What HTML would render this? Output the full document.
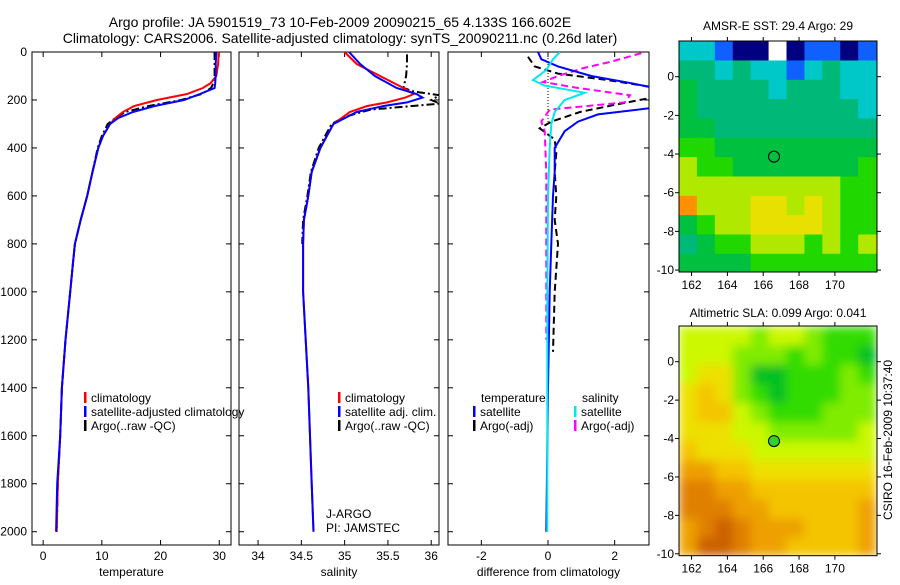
<!DOCTYPE html>
<html><head><meta charset="utf-8"><style>
body{margin:0;background:#fff;width:900px;height:580px;overflow:hidden}
svg{font-family:"Liberation Sans",sans-serif;font-size:12px}
</style></head><body>
<svg id="s" width="900" height="580">
<defs>
<filter id="bl" x="0" y="0" width="1" height="1"><feGaussianBlur stdDeviation="5" edgeMode="duplicate"/></filter>
<clipPath id="slaclip"><rect x="679" y="326" width="198" height="229.7"/></clipPath>
</defs>
<text x="340" y="27" text-anchor="middle" font-size="14">Argo profile: JA 5901519_73 10-Feb-2009 20090215_65 4.133S 166.602E</text>
<text x="340" y="43" text-anchor="middle" font-size="14">Climatology: CARS2006. Satellite-adjusted climatology: synTS_20090211.nc (0.26d later)</text>
<text x="778" y="30" text-anchor="middle">AMSR-E SST: 29.4 Argo: 29</text>
<text x="778" y="317" text-anchor="middle">Altimetric SLA: 0.099 Argo: 0.041</text>
<text transform="translate(892,440) rotate(-90)" text-anchor="middle">CSIRO 16-Feb-2009 10:37:40</text>
</svg>
<script>
// ---- profile data ----
const depthT=[0,50,100,130,150,175,200,225,250,275,300,350,400,500,600,700,800,900,1000,1200,1400,1600,1800,2000];
const tClim=[29.9,29.8,29.5,28.5,27.2,24.5,19.4,15.5,13.6,12.3,11.4,10.2,9.4,8.4,7.5,6.4,5.4,5.0,4.6,3.8,3.2,2.9,2.5,2.3];
const tSatClim=[29.5,29.4,29.4,29.3,29.2,26.7,24,19,15.3,12.8,11.4,10.2,9.4,8.4,7.5,6.4,5.4,5.0,4.6,3.8,3.2,2.9,2.4,2.2];
const tArgo=[29.2,29.2,29.2,29.0,28.6,27,23.5,18,14,12.3,11,10,9.3,8.4,7.5,6.4,5.4,5.0,4.6,3.8,3.2,2.9,2.5,2.3];
const depthS=[0,50,100,150,175,190,210,225,250,300,400,500,600,700,800,1000,1400,1600,1800,2000];
const sClim=[35.0,35.14,35.41,35.68,35.8,35.7,35.49,35.26,35.06,34.87,34.72,34.62,34.58,34.53,34.52,34.52,34.58,34.6,34.62,34.64];
const sSatClim=[35.05,35.18,35.35,35.6,35.83,35.9,35.72,35.45,35.14,34.87,34.72,34.62,34.58,34.53,34.52,34.52,34.58,34.6,34.62,34.64];
const depthSA=[10,50,100,150,165,180,200,215,240,270,300,400,500,600,700,800];
const sArgo=[35.72,35.72,35.71,35.68,35.8,36.1,36.0,36.1,35.3,35.0,34.85,34.7,34.61,34.57,34.52,34.51];
const depthD=[0,30,60,100,130,150,170,200,230,260,290,330,400,500,600,800,1000,1400,2000];
const dTSat=[-0.3,-0.2,0.3,1.3,2.5,3.2,4,4.5,3.3,1.5,0.9,0.5,0.2,0.2,0.15,0.1,0.05,0,-0.05];
const depthDTA=[20,60,90,117,148,180,220,250,290,318,365,420,500,600,700,800,1000,1250];
const dTArgo=[-0.6,-0.4,0.3,1.8,3.2,3.5,2,0.96,0.1,-0.25,0.2,0.25,0.2,0.25,0.2,0.3,0.2,0.15];
const depthDSS=[0,30,75,117,140,155,170,200,250,300,400,600,1000,2000];
const dSSat=[0.36,0.15,-0.05,-0.45,-0.1,0.5,1.1,0.5,0.2,0.1,0.05,0.0,-0.02,-0.02];
const depthDSA=[5,40,67,100,125,150,180,210,240,290,330,500,800,1200];
const dSArgo=[2.8,1.9,1.06,0.3,-0.15,0.9,2.46,2.3,0.05,-0.2,-0.1,-0.05,-0.05,-0.05];
const depthTicks=[0,200,400,600,800,1000,1200,1400,1600,1800,2000];
const tTicks=[0,10,20,30], sTicks=[34,34.5,35,35.5,36], dTicks=[-2,0,2];
// ---- map data (colour class per 1-degree cell) ----
const sstLat=[1.84,0.84,-0.16,-1.16,-2.16,-3.16,-4.16,-5.16,-6.16,-7.16,-8.16,-9.16,-10.1];
const sstRows=[
[3,3,2,1,1,0,1,2,2,1,2],[4,4,3,4,3,3,2,3,4,3,3],[5,4,4,4,4,3,4,4,4,3,3],[5,4,4,4,4,4,4,4,4,4,3],
[5,5,4,4,4,4,4,4,4,4,4],[6,6,5,5,5,5,5,5,5,5,5],[7,6,6,5,5,5,5,5,5,5,6],[7,7,7,7,7,7,7,7,7,6,6],
[9,7,7,7,8,8,7,8,7,6,6],[5,6,7,7,8,8,8,8,7,6,6],[4,5,6,6,7,7,7,6,7,6,7],[5,5,5,5,6,6,6,6,6,6,6]];
const slaRows=[
[3,3,3,3,2,3,3,2,1,1,1],[3,3,3,2,2,2,1,2,1,1,0],[3,4,4,2,0,0,1,1,1,2,1],[4,5,4,2,1,0,1,1,1,2,2],
[4,5,5,3,2,1,1,1,2,2,2],[4,4,4,3,3,2,2,2,2,2,3],[5,4,4,4,3,3,3,3,3,3,3],[6,6,5,5,4,4,4,4,4,4,4],
[7,7,6,6,5,5,5,5,5,5,5],[7,7,7,6,6,5,5,5,5,5,6],[6,7,8,7,6,6,6,5,5,5,6],[6,8,8,7,6,6,5,5,5,5,6]];
const lonTicks=[162,164,166,168,170], latTicks=[0,-2,-4,-6,-8,-10];
const argoLon=166.602, argoLat=-4.133;
const sstPal=['#ffffff','#000080','#1060ff','#00c8c8','#00b878','#00c040','#20d800','#b0e800','#e8e000','#ff9000'];
const slaPal=['#00c020','#30dc00','#80ec00','#ccf800','#eee000','#f4c400','#eea000','#e08000','#cc6000'];

const S=document.getElementById('s'),NS='http://www.w3.org/2000/svg';
function mk(t,a,p){const e=document.createElementNS(NS,t);for(const k in a)e.setAttribute(k,a[k]);(p||S).appendChild(e);return e;}
const Y0=52,Y1=545,dY=d=>Y0+d*(531.7-52)/2000;
const panels=[{x0:32,x1:231,lo:-1.9,hi:32},{x0:239,x1:439,lo:33.78,hi:36.09},{x0:448,x1:649,lo:-3,hi:3.03}];
panels.forEach(p=>p.f=v=>p.x0+(v-p.lo)/(p.hi-p.lo)*(p.x1-p.x0));
function clipFor(i,p){const c=mk('clipPath',{id:'c'+i});mk('rect',{x:p.x0,y:Y0,width:p.x1-p.x0,height:Y1-Y0},c);}
panels.forEach((p,i)=>clipFor(i,p));
function line(pi,ds,vs,col,dash,name,w){
  const p=panels[pi];const pts=ds.map((d,i)=>p.f(vs[i]).toFixed(1)+','+dY(d).toFixed(1)).join(' ');
  const e=mk('polyline',{points:pts,fill:'none',stroke:col,'stroke-width':w||2,'clip-path':'url(#c'+pi+')'});
  if(dash)e.setAttribute('stroke-dasharray',dash);
  
  
}
const names=['temperature','salinity','difference from climatology'];
const ticks=[tTicks,sTicks,dTicks];
panels.forEach((p,i)=>{
  const r=mk('rect',{x:p.x0,y:Y0,width:p.x1-p.x0,height:Y1-Y0,fill:'none',stroke:'#000','stroke-width':1});
  
  
  ticks[i].forEach(v=>{const x=p.f(v);
    mk('line',{x1:x,x2:x,y1:Y1,y2:Y1-5,stroke:'#000'});mk('line',{x1:x,x2:x,y1:Y0,y2:Y0+5,stroke:'#000'});
    const t=mk('text',{x:x,y:560,'text-anchor':'middle'});t.textContent=v;
    
    });
  depthTicks.forEach(d=>{const y=dY(d);mk('line',{x1:p.x0,x2:p.x0+5,y1:y,y2:y,stroke:'#000'});mk('line',{x1:p.x1,x2:p.x1-5,y1:y,y2:y,stroke:'#000'});});
  const t=mk('text',{x:(p.x0+p.x1)/2,y:576,'text-anchor':'middle'});t.textContent=names[i];
  
  
});
depthTicks.forEach(d=>{const t=mk('text',{x:27,y:dY(d)+4,'text-anchor':'end'});t.textContent=d;
  
  });
mk('line',{x1:panels[2].f(0),x2:panels[2].f(0),y1:Y0,y2:dY(300),stroke:'#000','stroke-dasharray':'1,2'});
line(0,depthT,tArgo,'#000','8,3,2,3','temp-argo');
line(0,depthT,tClim,'#ff0000',null,'temp-climatology');
line(0,depthT,tSatClim,'#0000ff',null,'temp-satellite-climatology');
line(1,depthSA,sArgo,'#000','8,3,2,3','sal-argo');
line(1,depthS,sClim,'#ff0000',null,'sal-climatology');
line(1,depthS,sSatClim,'#0000ff',null,'sal-satellite-climatology');
line(2,depthDTA,dTArgo,'#000','7,4','diff-temp-argo');
line(2,depthDSA,dSArgo,'#ff00ff','7,4','diff-sal-argo');
line(2,depthD,dTSat,'#0000ff',null,'diff-temp-satellite');
line(2,depthDSS,dSSat,'#00e8f0',null,'diff-sal-satellite');
function leg(x,y,col,txt,name){mk('rect',{x:x,y:y-10,width:2.5,height:11,fill:col});
  const t=mk('text',{x:x+7,y:y});t.textContent=txt;}
leg(84,402,'#ff0000','climatology','legend-climatology');
leg(84,416,'#0000ff','satellite-adjusted climatology','legend-satellite-climatology');
leg(84,430,'#000','Argo(..raw -QC)','legend-argo');
leg(338,402,'#ff0000','climatology','legend-sal-climatology');
leg(338,416,'#0000ff','satellite adj. clim.','legend-sal-satellite');
leg(338,430,'#000','Argo(..raw -QC)','legend-sal-argo');
let tt=mk('text',{x:481,y:402});tt.textContent='temperature';
tt=mk('text',{x:582,y:402});tt.textContent='salinity';
leg(473,416,'#0000ff','satellite','legend-diff-temp-sat');
leg(473,430,'#000','Argo(-adj)','legend-diff-temp-argo');
leg(574,416,'#00e8f0','satellite','legend-diff-sal-sat');
leg(574,430,'#ff00ff','Argo(-adj)','legend-diff-sal-argo');
tt=mk('text',{x:326,y:518});tt.textContent='J-ARGO';
tt=mk('text',{x:326,y:532});tt.textContent='PI: JAMSTEC';
function map(rows,pal,top,bottom,zeroY,name,filled){
  const x0=679,x1=877,lonLo=161.3,lonHi=172.35;
  const fx=l=>x0+(l-lonLo)/(lonHi-lonLo)*(x1-x0);
  const pxLat=(bottom-zeroY)/10.1;const fy=la=>zeroY-la*pxLat;
  const outer=mk('g',filled?{'clip-path':'url(#slaclip)'}:{});
  const g=mk('g',filled?{filter:'url(#bl)'}:{},outer);
  rows.forEach((r,i)=>r.forEach((v,j)=>{
    const la0=sstLat[i],la1=sstLat[i+1];const ya=Math.max(top,fy(la0)),yb=fy(la1);
    const xa=fx(lonLo+j),xb=Math.min(x1,fx(lonLo+j+1));
    const c=mk('rect',{x:xa,y:ya,width:xb-xa+0.5,height:yb-ya+0.5,fill:pal[v]},g);
    
    
  }));
  mk('rect',{x:x0,y:top,width:x1-x0,height:bottom-top,fill:'none',stroke:'#000'});
  lonTicks.forEach(l=>{const x=fx(l);mk('line',{x1:x,x2:x,y1:bottom,y2:bottom+4,stroke:'#000'});mk('line',{x1:x,x2:x,y1:top,y2:top-4,stroke:'#000'});
    const t=mk('text',{x:x,y:bottom+17,'text-anchor':'middle'});t.textContent=l;});
  latTicks.forEach(la=>{const y=fy(la);mk('line',{x1:x0,x2:x0-4,y1:y,y2:y,stroke:'#000'});mk('line',{x1:x1,x2:x1+4,y1:y,y2:y,stroke:'#000'});
    const t=mk('text',{x:x0-5,y:y+4,'text-anchor':'end'});t.textContent=la;});
  const m=mk('circle',{cx:fx(argoLon),cy:fy(argoLat),r:5.5,fill:filled?'#30d030':'none',stroke:'#000'});
  
}
map(sstRows,sstPal,41,272,76.7,'sst-map',false);
map(slaRows,slaPal,326,555.7,361.7,'sla-map',true);
</script>
</body></html>
